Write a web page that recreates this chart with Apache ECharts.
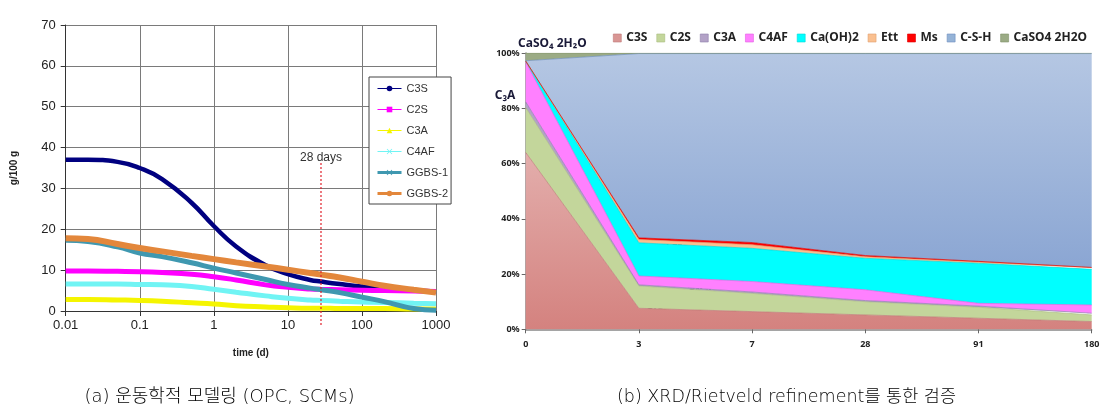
<!DOCTYPE html>
<html>
<head>
<meta charset="utf-8">
<script src="https://cdn.jsdelivr.net/npm/echarts@6/dist/echarts.min.js"></script>
<style>
html,body{margin:0;padding:0;background:#fff;}
#wrap{position:relative;width:1105px;height:406px;overflow:hidden;}
#chartA{position:absolute;left:0;top:0;width:480px;height:406px;}
#chartB{position:absolute;left:480px;top:0;width:625px;height:406px;}
</style>
</head>
<body>
<div id="wrap"><div id="chartA"></div><div id="chartB"></div></div>
<script>
// ---------- (a) kinetic modelling data ----------
const tDays = [0.01, 0.02, 0.05, 0.1, 0.2, 0.5, 1, 2, 5, 10, 20, 28, 50, 100, 200, 500, 1000];
const c3sModel  = [37.0, 37.0, 36.5, 35.0, 32.3, 26.5, 20.8, 15.8, 11.2, 9.0, 7.6, 7.2, 6.6, 6.0, 5.6, 5.1, 4.8];
const c2sModel  = [9.8, 9.8, 9.7, 9.6, 9.4, 9.0, 8.4, 7.6, 6.4, 5.8, 5.4, 5.3, 5.2, 5.1, 5.0, 4.9, 4.8];
const c3aModel  = [2.8, 2.8, 2.7, 2.6, 2.4, 2.0, 1.7, 1.3, 1.0, 0.8, 0.7, 0.7, 0.6, 0.6, 0.6, 0.5, 0.5];
const c4afModel = [6.6, 6.6, 6.6, 6.5, 6.4, 6.0, 5.3, 4.6, 3.7, 3.1, 2.7, 2.6, 2.4, 2.2, 2.1, 1.9, 1.8];
const ggbs1     = [17.3, 17.0, 15.7, 14.2, 13.3, 11.8, 10.5, 9.3, 7.7, 6.5, 5.6, 5.2, 4.5, 3.4, 2.3, 0.6, 0.2];
const ggbs2     = [17.8, 17.6, 16.4, 15.4, 14.6, 13.5, 12.7, 11.9, 10.9, 10.1, 9.3, 8.9, 8.2, 7.2, 6.2, 5.2, 4.5];
const modelNames = ['C3S', 'C2S', 'C3A', 'C4AF', 'GGBS-1', 'GGBS-2'];
const markDay = 28;
const markLabel = '28 days';
const xTitleA = 'time (d)';
const yTitleA = 'g/100 g';
const captionA = '(a) 운동학적 모델링 (OPC, SCMs)';

// ---------- (b) XRD / Rietveld data ----------
const ageCats = ['0', '3', '7', '28', '91', '180'];
const phaseNames = ['C3S', 'C2S', 'C3A', 'C4AF', 'Ca(OH)2', 'Ett', 'Ms', 'C-S-H', 'CaSO4 2H2O'];
const c3sX   = [64.0, 7.6, 6.4, 5.2, 4.0, 2.8];
const c2sX   = [16.3, 8.1, 6.6, 4.8, 4.0, 2.4];
const c3aX   = [2.0, 0.4, 0.5, 0.4, 0.4, 0.6];
const c4afX  = [14.5, 3.2, 3.8, 3.9, 1.0, 3.0];
const chX    = [0.3, 12.0, 12.0, 11.4, 14.5, 12.9];
const ettX   = [0.0, 1.2, 1.3, 0.6, 0.5, 0.6];
const msX    = [0.0, 0.6, 0.8, 0.4, 0.2, 0.1];
const cshX   = [0.1, 66.7, 68.4, 73.1, 75.2, 77.4];
const gypX   = [2.8, 0.2, 0.2, 0.2, 0.2, 0.2];
const captionB = '(b) XRD/Rietveld refinement를 통한 검증';

const captionFontA = '200 18px "DejaVu Sans", "Noto Sans CJK KR", sans-serif';
const captionFontB = '200 17.5px "DejaVu Sans", "Noto Sans CJK KR", sans-serif';

// ================= Chart A =================
const chartA = echarts.init(document.getElementById('chartA'));
const modelVals = [c3sModel, c2sModel, c3aModel, c4afModel, ggbs1, ggbs2];
const modelColors = ['#000080', '#ff00ff', '#f5f500', '#70f4f4', '#3f98b0', '#e3873b'];
const modelWidths = [4.5, 5, 5, 5, 5, 6];
const xShape = 'path://M0,1L1,0L5,4L9,0L10,1L6,5L10,9L9,10L5,6L1,10L0,9L4,5Z';
const modelSymbols = ['circle', 'rect', 'triangle', xShape, xShape, 'circle'];
const fontA = 'Liberation Sans, Arial, sans-serif';

chartA.setOption({
  animation: false,
  grid: { left: 65.7, top: 25, width: 370.3, height: 286, containLabel: false },
  xAxis: {
    type: 'log', logBase: 10, min: 0.01, max: 1000,
    name: xTitleA, nameLocation: 'middle', nameGap: 37,
    nameTextStyle: { fontFamily: fontA, fontWeight: 'bold', fontSize: 10, color: '#222' },
    axisLine: { lineStyle: { color: '#333', width: 1 } },
    axisTick: { show: true, length: 5, lineStyle: { color: '#333' } },
    minorTick: { show: false },
    axisLabel: { fontFamily: fontA, fontSize: 13, color: '#222', margin: 8,
      formatter: function (v) { return String(+v.toPrecision(6)); } },
    splitLine: { show: true, lineStyle: { color: '#7a7a7a', width: 1 } }
  },
  yAxis: {
    type: 'value', min: 0, max: 70, interval: 10,
    name: yTitleA, nameLocation: 'middle', nameGap: 46, nameRotate: 90,
    nameTextStyle: { fontFamily: fontA, fontWeight: 'bold', fontSize: 10, color: '#222' },
    axisLine: { show: true, lineStyle: { color: '#333', width: 1 } },
    axisTick: { show: true, length: 5, lineStyle: { color: '#333' } },
    axisLabel: { fontFamily: fontA, fontSize: 13, color: '#222', margin: 10 },
    splitLine: { show: true, lineStyle: { color: '#7a7a7a', width: 1 } }
  },
  legend: {
    orient: 'vertical', left: 369, top: 77,
    padding: [6, 3, 5, 7], itemGap: 10, itemWidth: 24, itemHeight: 7,
    backgroundColor: '#fff', borderColor: '#444', borderWidth: 1,
    textStyle: { fontFamily: fontA, fontSize: 11, color: '#333' },
    data: modelNames.map(function (n, i) {
      return { name: n, lineStyle: { width: i >= 4 ? 3 : 1 } };
    })
  },
  series: modelNames.map(function (n, i) {
    return {
      name: n, type: 'line', smooth: true,
      symbol: modelSymbols[i], symbolSize: 7, showSymbol: false,
      itemStyle: { color: modelColors[i] },
      lineStyle: { color: modelColors[i], width: modelWidths[i] },
      data: tDays.map(function (t, k) { return [t, modelVals[i][k]]; }),
      z: 2 + i
    };
  })
});

// 28 days marker placed through the axis scales
(function () {
  const px = chartA.convertToPixel({ xAxisIndex: 0 }, markDay);
  const yTop = chartA.convertToPixel({ yAxisIndex: 0 }, 36.2);
  const yZero = chartA.convertToPixel({ yAxisIndex: 0 }, 0);
  chartA.setOption({
    graphic: [
      { type: 'line', shape: { x1: px, y1: yTop, x2: px, y2: yZero + 14 },
        style: { stroke: '#e0202a', lineWidth: 1.2, lineDash: [2, 2] }, z: 50 },
      { type: 'text', x: px, y: yTop - 5,
        style: { text: markLabel, fill: '#333', font: '12px ' + fontA, align: 'center', verticalAlign: 'middle' }, z: 50 },
      { type: 'text', x: 219.5, y: 397,
        style: { text: captionA, fill: '#000', font: captionFontA, align: 'center', verticalAlign: 'middle' } }
    ]
  });
})();

// ================= Chart B =================
const chartB = echarts.init(document.getElementById('chartB'));
const phaseVals = [c3sX, c2sX, c3aX, c4afX, chX, ettX, msX, cshX, gypX];
const phaseColors = ['#d99694', '#c3d69b', '#b3a2c7', '#ff80ff', '#00ffff', '#fac090', '#ff0000', '#95b3d7', '#9bab85'];
const phaseLines = ['#c07a78', '#a9bd80', '#8f80ad', '#e060e0', '#00d8d8', '#e0a070', '#dd0000', '#6f8fbf', '#7f9068'];
const phaseFills = [
  new echarts.graphic.LinearGradient(0, 0, 0, 1, [{ offset: 0, color: '#e3aeac' }, { offset: 1, color: '#d4827f' }]),
  '#c3d69b', '#b3a2c7', '#ff80ff', '#00ffff', '#fac090', '#ff0000',
  new echarts.graphic.LinearGradient(0, 0, 0, 1, [{ offset: 0, color: '#b5c7e3' }, { offset: 1, color: '#8ba6d3' }]),
  '#9bab85'
];
const fontB = '"Noto Sans", "DejaVu Sans", sans-serif';

chartB.setOption({
  animation: false,
  grid: { left: 45.7, top: 53, width: 566, height: 276.3, containLabel: false },
  legend: {
    left: 128, top: 27, width: 495, itemWidth: 8, itemHeight: 8, itemGap: 9, icon: 'rect',
    textStyle: { fontFamily: fontB, fontWeight: 'bold', fontSize: 12, color: '#222' },
    data: phaseNames.map(function (n, i) { return { name: n, itemStyle: { color: phaseColors[i], borderColor: phaseLines[i], borderWidth: 0.6 } }; })
  },
  xAxis: {
    type: 'category', data: ageCats, boundaryGap: false,
    axisLine: { lineStyle: { color: '#888', width: 1.5 } },
    axisTick: { show: true, length: 4, lineStyle: { color: '#666' } },
    axisLabel: { fontFamily: fontB, fontWeight: 'bold', fontSize: 9, color: '#222', margin: 11 },
    splitLine: { show: false }
  },
  yAxis: {
    type: 'value', min: 0, max: 100, interval: 20,
    axisLine: { show: true, lineStyle: { color: '#888', width: 1.5 } },
    axisTick: { show: true, length: 4, lineStyle: { color: '#666' } },
    axisLabel: { fontFamily: fontB, fontWeight: 'bold', fontSize: 9, color: '#222', margin: 6, formatter: '{value}%' },
    splitLine: { show: false }
  },
  series: phaseNames.map(function (n, i) {
    return {
      name: n, type: 'line', stack: 'total', symbol: 'none',
      color: phaseColors[i],
      lineStyle: { color: phaseLines[i], width: 0.7 },
      areaStyle: { color: phaseFills[i], opacity: 1 },
      data: phaseVals[i]
    };
  }),
  graphic: [
    { type: 'text', x: 354.7, y: 136.7, style: { text: 'C-S-H (gel)', fill: '#1a1a38', font: 'bold 12px ' + fontB, align: 'center', verticalAlign: 'middle' } },
    { type: 'text', x: 265, y: 239, style: { text: 'Ms', fill: '#1a1a38', font: 'bold 12px ' + fontB, align: 'center', verticalAlign: 'middle' } },
    { type: 'text', x: 194, y: 248, style: { text: 'Ett', fill: '#1a1a38', font: 'bold 12px ' + fontB, align: 'center', verticalAlign: 'middle' } },
    { type: 'text', x: 329, y: 276, style: { text: 'Ca(OH)₂', fill: '#1a1a38', font: 'bold 12px ' + fontB, align: 'center', verticalAlign: 'middle' } },
    { type: 'text', x: 221, y: 287, style: { text: 'C₄AF', fill: '#1a1a38', font: 'bold 12px ' + fontB, align: 'center', verticalAlign: 'middle' } },
    { type: 'text', x: 175, y: 306, style: { text: 'C₂S', fill: '#1a1a38', font: 'bold 12px ' + fontB, align: 'center', verticalAlign: 'middle' } },
    { type: 'text', x: 70, y: 321, style: { text: 'C₃S', fill: '#1a1a38', font: 'bold 12px ' + fontB, align: 'center', verticalAlign: 'middle' } },
    { type: 'text', x: 38, y: 44, style: { text: 'CaSO₄ 2H₂O', fill: '#1a1a38', font: 'bold 12px ' + fontB, align: 'left', verticalAlign: 'middle' } },
    { type: 'text', x: 25, y: 96, style: { text: 'C₃A', fill: '#1a1a38', font: 'bold 12px ' + fontB, align: 'center', verticalAlign: 'middle' } },
    { type: 'text', x: 306.5, y: 397, style: { text: captionB, fill: '#000', font: captionFontB, align: 'center', verticalAlign: 'middle' } }
  ]
});
</script>
</body>
</html>
